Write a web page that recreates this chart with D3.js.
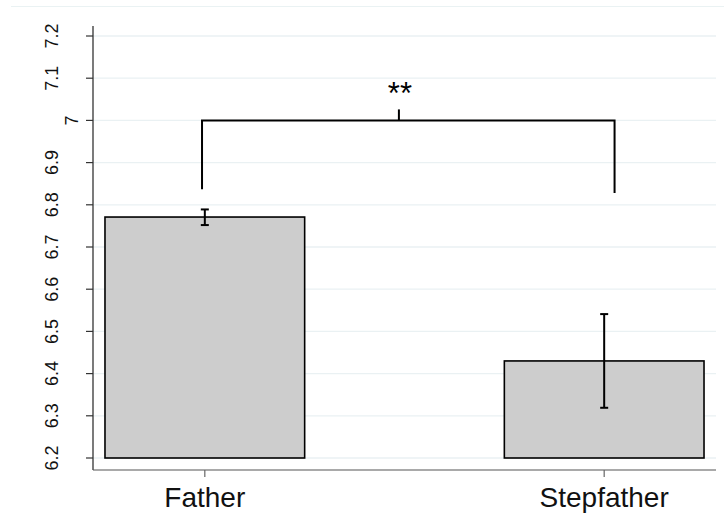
<!DOCTYPE html>
<html>
<head>
<meta charset="utf-8">
<script src="https://cdn.jsdelivr.net/npm/d3@7"></script>
<style>
  body { margin: 0; background: #fff; }
  svg { display: block; font-family: "Liberation Sans", Arial, sans-serif; }
</style>
</head>
<body>
<svg id="chart" width="724" height="526"></svg>
<script>
// group means with error bars (mean +/- se)
const categories = ['Father', 'Stepfather'];
const positions = [1, 2];
const means = [6.771, 6.43];
const errLow = [6.752, 6.319];
const errHigh = [6.789, 6.541];
const yTicks = [6.2, 6.3, 6.4, 6.5, 6.6, 6.7, 6.8, 6.9, 7, 7.1, 7.2];

// significance bracket: x ends, bottom of each leg, top bar level, label
const bracketX = [0.993, 2.026];
const bracketLegs = [6.837, 6.828];
const bracketTop = 7.0;
const bracketMid = 1.486;
const sigLabel = '**';

const svg = d3.select('#chart');

const x = d3.scaleLinear().domain([0.72, 2.28]).range([93, 716]);
const y = d3.scaleLinear().domain([6.2, 7.2]).range([458, 36]);
const axisBottom = 470;
const axisTop = 26;
const barWidth = 0.5;

// outer region line
svg.append('line')
  .attr('x1', 11).attr('x2', 724).attr('y1', 6.5).attr('y2', 6.5)
  .attr('stroke', '#eaf2f3').attr('stroke-width', 1);

// gridlines
svg.append('g').selectAll('line')
  .data(yTicks)
  .join('line')
  .attr('x1', x.range()[0]).attr('x2', x.range()[1])
  .attr('y1', d => y(d)).attr('y2', d => y(d))
  .attr('stroke', '#eaf1f3').attr('stroke-width', 1.3);

// bars
svg.append('g').selectAll('rect')
  .data(means)
  .join('rect')
  .attr('x', (d, i) => x(positions[i] - barWidth / 2))
  .attr('width', x(positions[0] + barWidth) - x(positions[0]))
  .attr('y', d => y(d))
  .attr('height', d => y(6.2) - y(d))
  .attr('fill', '#cdcdcd')
  .attr('stroke', '#000')
  .attr('stroke-width', 1.6);

// error bars
const err = svg.append('g').attr('stroke', '#000').attr('stroke-width', 2);
positions.forEach((p, i) => {
  const cx = x(p);
  err.append('line').attr('x1', cx).attr('x2', cx)
    .attr('y1', y(errLow[i])).attr('y2', y(errHigh[i]));
  [errLow[i], errHigh[i]].forEach(v => {
    err.append('line').attr('x1', cx - 4).attr('x2', cx + 4)
      .attr('y1', y(v)).attr('y2', y(v));
  });
});

// y axis
const yAxis = svg.append('g');
yAxis.append('line')
  .attr('x1', 93).attr('x2', 93).attr('y1', axisTop).attr('y2', axisBottom)
  .attr('stroke', '#222').attr('stroke-width', 1.2);
yAxis.selectAll('.tick')
  .data(yTicks)
  .join('line')
  .attr('x1', 86).attr('x2', 93)
  .attr('y1', d => y(d)).attr('y2', d => y(d))
  .attr('stroke', '#333').attr('stroke-width', 1.2);
yAxis.selectAll('text')
  .data(yTicks)
  .join('text')
  .text(d => d3.format('~g')(d))
  .attr('font-size', 18)
  .attr('text-anchor', 'middle')
  .attr('fill', '#111')
  .each(function(d) {
    // shorter labels sit closer to the axis, as in the original
    const w = this.getComputedTextLength();
    const bx = 91 - 1.3 * w;
    d3.select(this)
      .attr('transform', `translate(${bx},${y(d)}) rotate(-90)`);
  });

// x axis
const xAxis = svg.append('g');
xAxis.append('line')
  .attr('x1', 93).attr('x2', 716).attr('y1', axisBottom).attr('y2', axisBottom)
  .attr('stroke', '#555').attr('stroke-width', 1.2);
xAxis.selectAll('.tick')
  .data(positions)
  .join('line')
  .attr('x1', d => x(d)).attr('x2', d => x(d))
  .attr('y1', axisBottom).attr('y2', axisBottom + 7)
  .attr('stroke', '#666').attr('stroke-width', 1.2);
xAxis.selectAll('text')
  .data(categories)
  .join('text')
  .text(d => d)
  .attr('x', (d, i) => x(positions[i]))
  .attr('y', 507)
  .attr('font-size', 28)
  .attr('text-anchor', 'middle')
  .attr('fill', '#111');

// significance bracket
const br = svg.append('g')
  .attr('fill', 'none').attr('stroke', '#000').attr('stroke-width', 2);
br.append('path')
  .attr('d', `M${x(bracketX[0])},${y(bracketLegs[0])}V${y(bracketTop)}` +
    `H${x(bracketX[1])}V${y(bracketLegs[1])}`);
br.append('line')
  .attr('x1', x(bracketMid)).attr('x2', x(bracketMid))
  .attr('y1', y(bracketTop)).attr('y2', y(bracketTop) - 11);
svg.append('text')
  .text(sigLabel)
  .attr('x', x(bracketMid) + 1)
  .attr('y', y(bracketTop) - 16)
  .attr('font-size', 31)
  .attr('text-anchor', 'middle')
  .attr('fill', '#000');
</script>
</body>
</html>
